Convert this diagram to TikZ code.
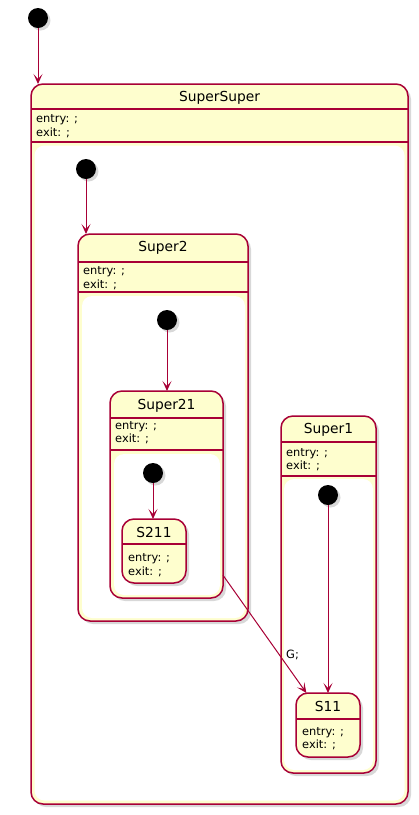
\documentclass[tikz,border=0pt]{standalone}
\usepackage{fontspec}
\setmainfont{DejaVu Sans}
\usetikzlibrary{shadows,arrows.meta}
\definecolor{umlred}{HTML}{A80036}
\definecolor{umlfill}{HTML}{FEFECE}
\tikzset{
  stbox/.style={draw=umlred, line width=1.5pt, fill=umlfill, rounded corners=12pt,
    inner sep=0pt, outer sep=0pt, anchor=north west,
    drop shadow={shadow xshift=3pt, shadow yshift=-3pt, opacity=.3}},
  inbox/.style={fill=white, rounded corners=10pt, inner sep=0pt, outer sep=0pt, anchor=north west},
  sep/.style={draw=umlred, line width=1.5pt},
  ttl/.style={font=\fontsize{13.8pt}{16pt}\selectfont, inner sep=0pt, anchor=base},
  attr/.style={font=\fontsize{11.4pt}{13pt}\selectfont, inner sep=0pt, anchor=base west},
  initdot/.style={circle, fill=black, minimum size=20pt, inner sep=0pt, outer sep=0pt,
    drop shadow={shadow xshift=2.5pt, shadow yshift=-2.5pt, opacity=.3}},
  trans/.style={draw=umlred, line width=1pt, -{Stealth[length=10pt, width=9pt, inset=5pt]}},
}
\begin{document}
\begin{tikzpicture}[x=1pt, y=1pt]
        \useasboundingbox (0,0) rectangle (419,-815);
        % --- SuperSuper ---
        \begin{scope}
            \node[stbox, minimum width=377pt, minimum height=720pt] (supersuper) at (31,-84) {};
            \node[ttl] (supersupername) at (219.5,-101) {SuperSuper};
            \draw[sep] (31,-109) -- (408,-109);
            \node[attr] (supersuperentry) at (36,-122) {entry: ;};
            \node[attr] (supersuperexit) at (36,-136) {exit: ;};
            \draw[sep] (31,-142) -- (408,-142);
            \node[inbox, minimum width=370pt, minimum height=655pt] (supersuperin) at (34.5,-145.5) {};
        \end{scope}
        % --- Super2 ---
        \begin{scope}
            \node[stbox, minimum width=170pt, minimum height=387pt] (super2) at (78,-234) {};
            \node[ttl] (super2name) at (163,-251) {Super2};
            \draw[sep] (78,-262) -- (248,-262);
            \node[attr] (super2entry) at (83,-274.5) {entry: ;};
            \node[attr] (super2exit) at (83,-288) {exit: ;};
            \draw[sep] (78,-292) -- (248,-292);
            \node[inbox, minimum width=163pt, minimum height=322pt] (super2in) at (82,-296) {};
        \end{scope}
        % --- Super21 ---
        \begin{scope}
            \node[stbox, minimum width=113pt, minimum height=207pt] (super21) at (110,-391) {};
            \node[ttl] (super21name) at (166.5,-409) {Super21};
            \draw[sep] (110,-418) -- (223,-418);
            \node[attr] (super21entry) at (115,-429) {entry: ;};
            \node[attr] (super21exit) at (115,-442.5) {exit: ;};
            \draw[sep] (110,-450) -- (223,-450);
            \node[inbox, minimum width=106pt, minimum height=141pt] (super21in) at (114,-454) {};
        \end{scope}
        % --- S211 ---
        \begin{scope}
            \node[stbox, minimum width=64pt, minimum height=64pt] (s211) at (122,-519) {};
            \node[ttl] (s211name) at (154,-537) {S211};
            \draw[sep] (122,-544) -- (186,-544);
            \node[attr] (s211entry) at (128,-561.5) {entry: ;};
            \node[attr] (s211exit) at (128,-575.5) {exit: ;};
        \end{scope}
        % --- Super1 ---
        \begin{scope}
            \node[stbox, minimum width=95pt, minimum height=357pt] (super1) at (281,-416) {};
            \node[ttl] (super1name) at (328.5,-433) {Super1};
            \draw[sep] (281,-442) -- (376,-442);
            \node[attr] (super1entry) at (286,-456) {entry: ;};
            \node[attr] (super1exit) at (286,-469.5) {exit: ;};
            \draw[sep] (281,-476) -- (376,-476);
            \node[inbox, minimum width=89pt, minimum height=291pt] (super1in) at (284,-479) {};
        \end{scope}
        % --- S11 ---
        \begin{scope}
            \node[stbox, minimum width=64pt, minimum height=64pt] (s11) at (296,-693) {};
            \node[ttl] (s11name) at (328,-711) {S11};
            \draw[sep] (296,-719) -- (360,-719);
            \node[attr] (s11entry) at (302,-735) {entry: ;};
            \node[attr] (s11exit) at (302,-748.5) {exit: ;};
        \end{scope}
        % --- initial states ---
        \node[initdot] (init0) at (38,-18) {};
        \node[initdot] (init1) at (86,-169) {};
        \node[initdot] (init2) at (167,-320) {};
        \node[initdot] (init3) at (153,-473) {};
        \node[initdot] (init4) at (328,-495) {};
        % --- transitions ---
        \draw[trans] (init0) -- (init0 |- supersuper.north);
        \draw[trans] (init1) -- (init1 |- super2.north);
        \draw[trans] (init2) -- (init2 |- super21.north);
        \draw[trans] (init3) -- (init3 |- s211.north);
        \draw[trans] (init4) -- (init4 |- s11.north);
        \draw[trans] (super21.-55) -- node[pos=0.68, anchor=west, inner sep=0pt, xshift=6pt,
            font=\fontsize{11.4pt}{13pt}\selectfont] (glabel) {G;} (s11.124.5);
    \end{tikzpicture}
\end{document}
